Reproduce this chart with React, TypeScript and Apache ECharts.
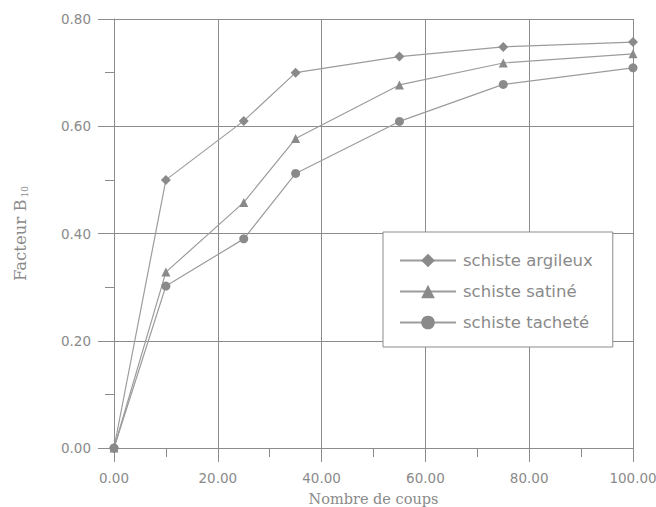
import React, { useEffect, useRef } from "react";
import * as echarts from "echarts";

const coups = [0, 10, 25, 35, 55, 75, 100];
const argileux = [0, 0.5, 0.61, 0.7, 0.73, 0.748, 0.757];
const satine = [0, 0.328, 0.458, 0.577, 0.677, 0.718, 0.735];
const tachete = [0, 0.302, 0.39, 0.512, 0.609, 0.678, 0.709];
const seriesNames = ["schiste argileux", "schiste satiné", "schiste tacheté"];
const xTicks = { min: 0, max: 100, interval: 20 };
const yTicks = { min: 0, max: 0.8, interval: 0.2 };

const GRAY = "#8c8c8c";
const LINE = "#9c9c9c";
const MARK = "#8a8a8a";
const TEXT = "#8a8a8a";

export default function App() {
  const ref = useRef<HTMLDivElement>(null);
  useEffect(() => {
    if (!ref.current) return;
    const chart = echarts.init(ref.current, null, { renderer: "svg" });
    const mk = (name: string, vals: number[], symbol: string) => ({
      name,
      type: "line",
      data: coups.map((x, i) => [x, vals[i]]),
      symbol,
      symbolSize: symbol === "diamond" ? 10 : 9,
      showSymbol: true,
      lineStyle: { color: LINE, width: 1.2 },
      itemStyle: { color: MARK, borderWidth: 0 },
      z: 3,
    });
    chart.setOption({
      animation: false,
      backgroundColor: "#fff",
      grid: { left: 114, right: 23, top: 19, bottom: 59, outerBoundsMode: "none", containLabel: false },
      legend: {
        orient: "vertical",
        left: 383,
        top: 232,
        backgroundColor: "#fff",
        borderColor: GRAY,
        borderWidth: 1,
        padding: [20, 20, 16, 16],
        itemWidth: 56,
        itemHeight: 17,
        itemGap: 14,
        data: seriesNames,
        textStyle: {
          fontFamily: "DejaVu Sans",
          fontSize: 16.5,
          color: TEXT,
          padding: [0, 0, 0, 2],
        },
      },
      xAxis: {
        type: "value",
        min: xTicks.min,
        max: xTicks.max,
        interval: xTicks.interval,
        name: "Nombre de coups",
        nameLocation: "middle",
        nameGap: 43,
        nameTextStyle: { fontFamily: "DejaVu Serif", fontSize: 14.5, color: TEXT },
        axisLine: { lineStyle: { color: GRAY, width: 1 } },
        axisTick: { show: true, length: 14, lineStyle: { color: GRAY } },
        minorTick: { show: true, splitNumber: 2, length: 9, lineStyle: { color: GRAY } },
        axisLabel: {
          margin: 23,
          fontFamily: "DejaVu Sans",
          fontSize: 13.5,
          color: TEXT,
          formatter: (v: number) => v.toFixed(2),
        },
        splitLine: { show: true, lineStyle: { color: GRAY, width: 1 } },
      },
      yAxis: {
        type: "value",
        min: yTicks.min,
        max: yTicks.max,
        interval: yTicks.interval,
        name: "Facteur B{s|10}",
        nameLocation: "middle",
        nameRotate: 90,
        nameGap: 85,
        nameTextStyle: {
          fontFamily: "DejaVu Serif",
          fontSize: 16.5,
          color: TEXT,
          rich: {
            s: { fontFamily: "DejaVu Serif", fontSize: 9, color: TEXT, verticalAlign: "bottom", padding: [8, 0, 0, 2] },
          },
        },
        axisLine: { show: true, lineStyle: { color: GRAY, width: 1 } },
        axisTick: { show: true, length: 16, lineStyle: { color: GRAY } },
        minorTick: { show: true, splitNumber: 2, length: 9, lineStyle: { color: GRAY } },
        axisLabel: {
          margin: 23,
          fontFamily: "DejaVu Sans",
          fontSize: 13.5,
          color: TEXT,
          formatter: (v: number) => v.toFixed(2),
        },
        splitLine: { show: true, lineStyle: { color: GRAY, width: 1 } },
      },
      series: [
        mk(seriesNames[0], argileux, "diamond"),
        mk(seriesNames[1], satine, "triangle"),
        mk(seriesNames[2], tachete, "circle"),
      ],
    });
    return () => chart.dispose();
  }, []);
  return (
    <div
      ref={ref}
      style={{ position: "fixed", left: 0, top: 0, width: 656, height: 507 }}
    />
  );
}
